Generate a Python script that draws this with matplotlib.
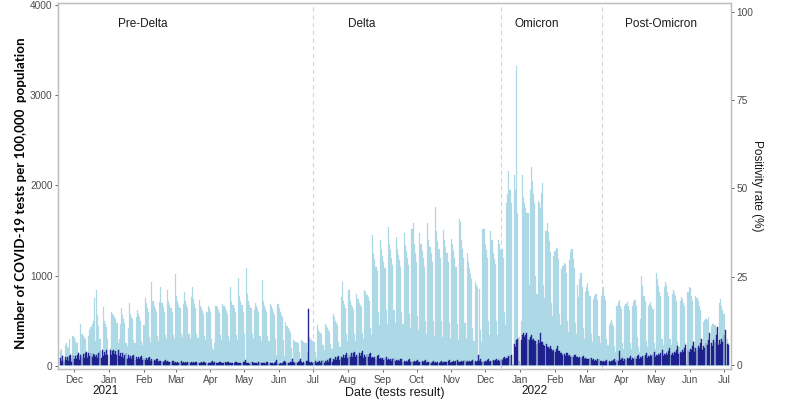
import matplotlib
matplotlib.use("Agg")
import matplotlib.pyplot as plt
import matplotlib.dates as mdates
import numpy as np
import pandas as pd

plt.rcParams['font.family'] = ['Liberation Sans', 'DejaVu Sans']

# ---------------- data ----------------
start_date = "2020-11-19"

# Daily COVID-19 tests per 100,000 population (weeks Mon..Sun; first block Thu..Sun)
tests_weeks = [
    [170, 190, 120, 70],
    [230, 250, 210, 200, 300, 130, 90],
    [330, 310, 280, 260, 250, 140, 100],
    [470, 360, 330, 310, 300, 170, 120],
    [330, 400, 430, 470, 500, 750, 280],
    [840, 560, 440, 300, 60, 140, 650],
    [500, 460, 430, 300, 0, 200, 600],
    [580, 560, 540, 520, 480, 260, 300],
    [470, 640, 560, 520, 480, 260, 220],
    [420, 700, 580, 540, 520, 290, 250],
    [540, 620, 580, 540, 500, 280, 230],
    [450, 750, 700, 640, 600, 320, 270],
    [930, 720, 660, 630, 600, 330, 280],
    [710, 870, 700, 650, 600, 340, 300],
    [840, 720, 680, 640, 600, 340, 300],
    [1020, 780, 720, 680, 640, 360, 320],
    [690, 820, 720, 680, 640, 350, 300],
    [760, 880, 740, 690, 640, 360, 310],
    [730, 670, 640, 610, 580, 330, 290],
    [600, 660, 640, 600, 300, 200, 180],
    [250, 670, 650, 620, 590, 340, 290],
    [690, 660, 640, 610, 580, 330, 280],
    [870, 720, 680, 640, 600, 340, 290],
    [970, 780, 720, 680, 600, 350, 40],
    [1090, 800, 720, 680, 640, 350, 300],
    [620, 700, 660, 630, 600, 330, 280],
    [950, 720, 670, 630, 600, 330, 280],
    [690, 660, 630, 600, 570, 300, 120],
    [690, 640, 600, 570, 540, 290, 110],
    [490, 440, 420, 400, 370, 200, 90],
    [290, 280, 270, 260, 250, 150, 80],
    [290, 280, 270, 260, 250, 150, 90],
    [320, 300, 290, 280, 270, 160, 90],
    [450, 400, 380, 370, 350, 230, 180],
    [470, 440, 420, 400, 380, 240, 190],
    [580, 540, 500, 480, 450, 270, 210],
    [760, 930, 720, 680, 640, 350, 280],
    [840, 720, 680, 650, 620, 350, 280],
    [800, 740, 700, 680, 650, 370, 300],
    [840, 820, 790, 760, 720, 420, 340],
    [1450, 1250, 1180, 1100, 1050, 600, 450],
    [1390, 1300, 1220, 1150, 1080, 620, 470],
    [1535, 1350, 1280, 1200, 1120, 620, 480],
    [1425, 1300, 1230, 1170, 1100, 600, 460],
    [1470, 1340, 1270, 1200, 1120, 580, 420],
    [1520, 1580, 1350, 1250, 1150, 550, 400],
    [1470, 1350, 1270, 1200, 1100, 500, 350],
    [1580, 1400, 1320, 1250, 1150, 500, 330],
    [1760, 1500, 1380, 1300, 1200, 500, 320],
    [1510, 1400, 1320, 1250, 1150, 480, 300],
    [1410, 1350, 1270, 1200, 1100, 460, 290],
    [1630, 1590, 1400, 1300, 1200, 480, 300],
    [1250, 1150, 1080, 1020, 960, 420, 280],
    [930, 900, 880, 40, 850, 400, 270],
    [1520, 1520, 1350, 1280, 1200, 500, 340],
    [1500, 1400, 1250, 1190, 1130, 500, 340],
    [1390, 1350, 1280, 1300, 1200, 600, 450],
    [1800, 1900, 2160, 1950, 1800, 0, 0],
    [2110, 1950, 3320, 1700, 60, 0, 500],
    [2110, 1870, 1800, 1750, 1700, 1690, 900],
    [1950, 2200, 2050, 1900, 1800, 1000, 800],
    [1830, 1800, 1750, 1920, 2030, 900, 750],
    [1500, 1580, 1480, 1380, 1260, 700, 550],
    [1220, 1270, 1310, 1300, 1180, 580, 450],
    [1070, 1110, 1140, 1135, 1030, 500, 380],
    [1170, 1260, 1300, 1180, 1080, 480, 360],
    [900, 760, 960, 1025, 880, 420, 300],
    [820, 870, 915, 830, 780, 360, 270],
    [740, 770, 800, 800, 730, 330, 250],
    [780, 820, 870, 780, 730, 300, 230],
    [450, 490, 510, 470, 440, 220, 160],
    [670, 710, 730, 670, 630, 260, 190],
    [660, 690, 710, 660, 620, 260, 190],
    [670, 710, 730, 670, 320, 210, 160],
    [520, 1000, 890, 770, 720, 280, 210],
    [670, 690, 710, 670, 630, 260, 190],
    [1025, 960, 890, 820, 770, 300, 230],
    [870, 925, 900, 820, 770, 300, 230],
    [800, 840, 810, 770, 720, 280, 210],
    [720, 760, 740, 700, 660, 260, 0],
    [820, 870, 860, 770, 720, 280, 210],
    [780, 750, 720, 670, 620, 260, 190],
    [490, 510, 520, 510, 540, 210, 0],
    [440, 460, 470, 450, 420, 190, 150],
    [700, 740, 660, 620, 580, 320, 0],
    [300, 250],
]

# Daily positivity rate (%), same layout
pos_weeks = [
    [2.0, 1.2, 2.5, 0.8],
    [2.3, 1.5, 2.4, 1.3, 2.6, 3.0, 1.0],
    [2.8, 1.7, 2.5, 1.6, 2.9, 3.3, 1.5],
    [3.0, 2.4, 3.2, 2.1, 3.5, 3.8, 2.0],
    [3.4, 2.6, 3.4, 2.2, 3.1, 2.9, 2.4],
    [2.8, 2.1, 3.5, 3.9, 2.0, 4.2, 2.6],
    [3.8, 2.8, 4.2, 3.0, 0.0, 4.3, 2.8],
    [4.0, 4.3, 3.2, 4.0, 2.8, 4.2, 2.5],
    [3.5, 2.4, 3.3, 2.1, 3.0, 3.4, 1.8],
    [2.8, 1.9, 2.6, 1.8, 2.6, 2.8, 1.5],
    [2.3, 1.7, 2.2, 1.6, 2.3, 2.5, 1.4],
    [2.0, 1.5, 1.9, 1.4, 2.0, 2.2, 1.2],
    [1.6, 1.3, 1.5, 1.2, 1.6, 1.8, 1.0],
    [1.3, 1.1, 1.2, 1.0, 1.3, 1.5, 0.9],
    [1.1, 0.9, 1.0, 0.8, 1.1, 1.3, 0.7],
    [0.9, 0.7, 0.8, 0.6, 0.9, 1.1, 0.6],
    [0.8, 0.6, 0.8, 0.5, 0.9, 1.0, 0.5],
    [0.8, 0.5, 0.8, 0.5, 0.8, 1.0, 0.5],
    [0.7, 0.5, 0.8, 0.5, 0.8, 1.0, 0.5],
    [0.7, 0.6, 0.7, 0.5, 0.9, 1.1, 0.6],
    [0.9, 0.5, 0.7, 0.5, 0.8, 1.0, 0.5],
    [0.7, 0.5, 0.8, 0.5, 0.8, 1.0, 0.5],
    [0.7, 0.5, 0.7, 0.5, 0.8, 1.0, 0.5],
    [0.7, 0.5, 0.7, 0.5, 0.8, 1.0, 1.5],
    [0.7, 0.5, 0.7, 0.4, 0.8, 0.9, 0.5],
    [0.7, 0.5, 0.7, 0.4, 0.8, 0.9, 0.5],
    [0.6, 0.5, 0.7, 0.4, 0.8, 0.9, 0.5],
    [0.7, 0.5, 0.6, 0.4, 0.7, 0.9, 1.5],
    [0.7, 0.4, 0.6, 0.4, 0.7, 0.9, 1.2],
    [0.8, 0.5, 0.7, 0.5, 0.8, 1.0, 1.8],
    [0.9, 0.6, 0.8, 0.5, 1.0, 1.2, 1.6],
    [1.0, 0.6, 0.9, 0.6, 1.1, 1.3, 16.0],
    [0.8, 0.6, 0.8, 0.6, 1.0, 1.2, 0.6],
    [1.0, 0.8, 1.1, 0.7, 1.2, 1.5, 0.7],
    [1.3, 1.0, 1.5, 1.0, 1.6, 2.0, 1.0],
    [1.8, 1.4, 2.2, 1.5, 2.3, 2.6, 1.4],
    [2.3, 1.9, 2.8, 2.0, 2.9, 3.4, 1.9],
    [2.8, 2.3, 3.3, 2.4, 3.4, 3.8, 2.2],
    [3.0, 2.5, 3.5, 2.5, 3.3, 3.9, 2.1],
    [2.8, 2.3, 3.2, 2.4, 3.1, 3.5, 2.0],
    [2.3, 1.9, 2.4, 1.8, 2.5, 2.9, 1.6],
    [2.0, 1.6, 2.0, 1.5, 2.1, 2.4, 1.4],
    [1.7, 1.4, 1.7, 1.3, 1.8, 2.1, 1.2],
    [1.4, 1.2, 1.5, 1.1, 1.6, 1.8, 1.0],
    [1.2, 1.0, 1.3, 1.0, 1.4, 1.6, 0.9],
    [1.1, 0.9, 1.2, 0.9, 1.2, 1.5, 0.8],
    [1.0, 0.8, 1.1, 0.8, 1.1, 1.4, 0.7],
    [0.9, 0.8, 1.0, 0.7, 1.0, 1.3, 0.7],
    [0.9, 0.7, 1.0, 0.7, 1.0, 1.2, 0.6],
    [0.9, 0.8, 1.0, 0.8, 1.1, 1.4, 0.7],
    [1.0, 0.8, 1.1, 0.8, 1.2, 1.5, 0.8],
    [1.0, 0.8, 1.1, 0.9, 1.2, 1.4, 0.8],
    [1.1, 0.9, 1.2, 0.9, 1.3, 1.5, 0.9],
    [1.2, 1.0, 1.3, 2.8, 1.3, 1.6, 1.0],
    [1.2, 1.0, 1.3, 1.0, 1.4, 1.7, 1.0],
    [1.3, 1.1, 1.4, 1.1, 1.5, 1.8, 1.1],
    [1.4, 1.3, 1.6, 1.5, 1.9, 2.2, 1.6],
    [2.0, 2.0, 2.6, 2.5, 3.0, 0.0, 0.0],
    [6.0, 5.0, 7.0, 7.5, 8.0, 0.0, 7.0],
    [8.5, 9.0, 8.0, 8.5, 9.0, 7.5, 7.0],
    [8.0, 8.5, 7.2, 7.5, 6.8, 6.8, 6.0],
    [7.0, 6.3, 9.0, 6.6, 6.5, 5.6, 5.3],
    [6.0, 5.0, 5.2, 4.6, 5.3, 4.7, 4.0],
    [4.2, 3.6, 4.5, 5.5, 4.0, 3.9, 3.3],
    [3.5, 3.0, 3.2, 2.7, 3.4, 3.4, 2.6],
    [2.8, 2.4, 2.6, 2.3, 2.9, 2.8, 2.2],
    [2.4, 2.0, 2.2, 1.9, 2.4, 2.5, 1.8],
    [2.0, 1.7, 1.8, 1.6, 2.0, 2.1, 1.5],
    [1.6, 1.3, 1.5, 1.2, 1.6, 1.7, 1.1],
    [1.2, 1.0, 1.1, 0.9, 1.3, 1.4, 0.9],
    [1.1, 1.0, 1.2, 1.1, 1.4, 1.6, 1.0],
    [1.5, 1.3, 4.0, 1.4, 1.8, 2.1, 1.3],
    [1.8, 1.5, 2.0, 1.6, 2.1, 2.5, 1.5],
    [2.0, 1.7, 2.2, 1.8, 2.5, 2.8, 1.8],
    [2.4, 1.9, 2.5, 2.2, 2.8, 3.3, 2.1],
    [2.7, 2.3, 2.9, 2.5, 3.2, 3.8, 2.3],
    [3.0, 2.6, 3.2, 2.8, 3.5, 4.2, 2.6],
    [3.2, 2.8, 3.5, 3.0, 3.9, 4.8, 2.9],
    [3.5, 3.0, 3.8, 3.4, 4.3, 5.3, 3.1],
    [3.8, 3.3, 4.2, 3.8, 4.8, 5.8, 0.0],
    [4.2, 3.7, 4.6, 4.2, 5.4, 6.5, 3.8],
    [4.8, 4.2, 5.3, 4.8, 6.2, 7.5, 4.4],
    [5.5, 4.8, 6.2, 5.6, 7.2, 9.0, 0.0],
    [6.3, 5.5, 7.2, 6.5, 8.4, 10.8, 5.8],
    [7.0, 6.0, 7.5, 6.5, 8.5, 10.0, 0.0],
    [6.0, 5.8],
]

period_breaks = ["2021-07-01", "2021-12-15", "2022-03-15"]
period_labels = ["Pre-Delta", "Delta", "Omicron", "Post-Omicron"]
period_label_dates = ["2021-01-31", "2021-08-13", "2022-01-16", "2022-05-06"]

tests = [v for w in tests_weeks for v in w]
positivity = [v for w in pos_weeks for v in w]
dates = pd.date_range(start_date, periods=len(tests), freq="D")

# ---------------- figure ----------------
fig = plt.figure(figsize=(8, 4), dpi=100)
ax = fig.add_axes([0.0725, 0.0775, 0.8413, 0.915])
ax2 = ax.twinx()

x = mdates.date2num(dates)
ax.bar(x, tests, width=1.0, color="#add8e6", edgecolor="#add8e6",
       linewidth=0.15, zorder=2)
ax2.bar(x, positivity, width=0.8, color="#1f1f9a", edgecolor="#14147c",
        linewidth=0.3, alpha=0.9, zorder=3)

for d in period_breaks:
    ax.axvline(mdates.date2num(pd.Timestamp(d)), color="#d3d3d3",
               linestyle=(0, (4, 3)), linewidth=0.8, zorder=1)

for lab, d in zip(period_labels, period_label_dates):
    ax.text(mdates.date2num(pd.Timestamp(d)), 3790, lab, ha="center",
            va="center", fontsize=8.5, color="#1a1a1a")

ax.set_xlim(mdates.date2num(pd.Timestamp("2020-11-16 16:00")),
            mdates.date2num(pd.Timestamp("2022-07-07 06:00")))
ax.set_ylim(-33, 4020)
ax2.set_ylim(-1.1, 102.5)

ax.set_yticks([0, 1000, 2000, 3000, 4000])
ax2.set_yticks([0, 25, 50, 75, 100])

month_ticks = pd.date_range("2020-12-01", "2022-07-01", freq="MS")
ax.set_xticks(mdates.date2num(month_ticks))
ax.set_xticklabels([m.strftime("%b") for m in month_ticks])

tick_col = "#4d4d4d"
for a in (ax, ax2):
    a.tick_params(axis="both", labelsize=7.3, colors=tick_col, length=2.5,
                  width=0.6, pad=1.5)
    for s in a.spines.values():
        s.set_color("#bdbdbd")
        s.set_linewidth(0.9)

ax.set_xlabel("Date (tests result)", fontsize=9, color="#1a1a1a")
ax.xaxis.set_label_coords(0.5, -0.048)
ax.set_ylabel("Number of COVID-19 tests per 100,000  population",
              fontsize=9.6, fontweight="bold", family="Lato",
              color="black")
ax.yaxis.set_label_coords(-0.046, 0.48)
ax2.set_ylabel("Positivity rate (%)", fontsize=8.5, rotation=270,
               color="#1a1a1a", labelpad=7)

fig.text(106 / 800, 1 - 391 / 400, "2021", ha="center", va="center",
         fontsize=8.5, color="#1a1a1a")
fig.text(534 / 800, 1 - 391 / 400, "2022", ha="center", va="center",
         fontsize=8.5, color="#1a1a1a")

ax.set_zorder(1)
ax2.set_zorder(2)
ax2.patch.set_visible(False)

fig.savefig("out.png", dpi=100)
